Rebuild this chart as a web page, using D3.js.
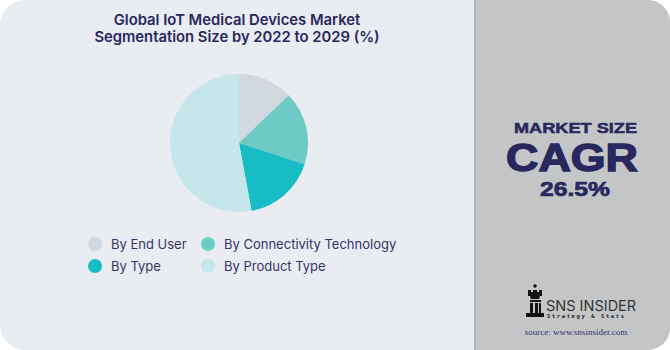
<!DOCTYPE html>
<html><head><meta charset="utf-8">
<script src="https://cdn.jsdelivr.net/npm/d3@7"></script>
<style>html,body{margin:0;padding:0;background:#fff;}svg{display:block;}</style>
</head><body>
<script>
const categories = ["By End User","By Connectivity Technology","By Type","By Product Type"];
const values = [12.8, 17.2, 17.1, 52.9];
const colors = ["#d1d8de","#6ecac4","#17bcc4","#c5e7ea"];
const titleLines = ["Global IoT Medical Devices Market","Segmentation Size by 2022 to 2029 (%)"];
const cagrLabel = "MARKET SIZE", cagrWord = "CAGR", cagrValue = "26.5%";

const W=670,H=350;
const svg=d3.select("body").append("svg").attr("width",W).attr("height",H);
const navy="#28285e";
// panels
svg.append("path").attr("d",`M25,0 H475 V350 H25 A25,25 0 0 1 0,325 V25 A25,25 0 0 1 25,0 Z`).attr("fill","#e9ecf1");
svg.append("path").attr("d",`M475,0 H648 A22,22 0 0 1 670,22 V328 A22,22 0 0 1 648,350 H475 Z`).attr("fill","#c4c5c7");
svg.append("rect").attr("x",474).attr("y",0).attr("width",2).attr("height",350).attr("fill","#b3b4b7");

// title
svg.append("g").selectAll("text").data(titleLines).join("text")
  .attr("x",237).attr("y",(d,i)=>24.5+i*17.5).attr("text-anchor","middle")
  .attr("font-family","Inter, sans-serif").attr("font-weight",600).attr("font-size",14.8)
  .attr("fill",navy).text(d=>d);

// pie
const pie=d3.pie().sort(null).value(d=>d)(values);
const arc=d3.arc().innerRadius(0).outerRadius(69);
svg.append("g").attr("transform","translate(239,143)").selectAll("path").data(pie).join("path")
  .attr("d",arc).attr("fill",(d,i)=>colors[i]);

// legend
const lx=[95,208], ly=[244,266];
const lg=svg.append("g").selectAll("g").data(categories).join("g")
  .attr("transform",(d,i)=>`translate(${lx[i%2]},${ly[Math.floor(i/2)]})`);
lg.append("circle").attr("r",7).attr("fill",(d,i)=>colors[i]);
lg.append("text").attr("x",16).attr("y",4.5).attr("font-family","Inter, sans-serif")
  .attr("font-size",13).attr("fill","#35356a").text(d=>d);

// right panel text
const rt=svg.append("g").attr("fill",navy).attr("stroke",navy).attr("font-family","Liberation Sans, Arial, sans-serif").attr("font-weight",700).attr("text-anchor","middle");
rt.append("text").attr("x",575.5).attr("y",133.3).attr("font-size",15).attr("stroke-width",0.5).attr("textLength",123).attr("lengthAdjust","spacingAndGlyphs").text(cagrLabel);
rt.append("text").attr("x",572).attr("y",170.8).attr("font-size",38.5).attr("stroke-width",1.4).attr("textLength",132).attr("lengthAdjust","spacingAndGlyphs").text(cagrWord);
rt.append("text").attr("x",575).attr("y",196).attr("font-size",20.5).attr("stroke-width",0.7).attr("textLength",70).attr("lengthAdjust","spacingAndGlyphs").text(cagrValue);

// logo
const lgG=svg.append("g").attr("fill","#111");
lgG.append("circle").attr("cx",535).attr("cy",286).attr("r",1.8);
lgG.append("path").attr("d","M528,290 h3 v2 h2 v-2 h4 v2 h2 v-2 h3 v6 h-2 l-1,3 h-8 l-1,-3 h-2 Z");
lgG.append("rect").attr("x",530).attr("y",300).attr("width",11).attr("height",2);
lgG.append("path").attr("d","M530,303 h3 v10 h-3 Z M535,303 h3 v10 h-3 Z M539,303 h2 v10 h-2 Z");
lgG.append("rect").attr("x",526).attr("y",313).attr("width",18).attr("height",4);
svg.append("text").attr("x",546).attr("y",311).attr("font-family","Inter, sans-serif").attr("font-size",14.5)
  .attr("fill","#333").text("SNS INSIDER");
svg.append("text").attr("x",547).attr("y",318).attr("font-family","DejaVu Sans Mono, monospace").attr("font-size",5.5)
  .attr("font-weight",700).attr("letter-spacing",1.6).attr("fill","#222").text("Strategy & Stats");
svg.append("text").attr("x",576).attr("y",335).attr("text-anchor","middle").attr("font-family","Liberation Serif, serif")
  .attr("font-size",9).attr("fill","#33336a").text("source: www.snsinsider.com");
</script>
</body></html>
